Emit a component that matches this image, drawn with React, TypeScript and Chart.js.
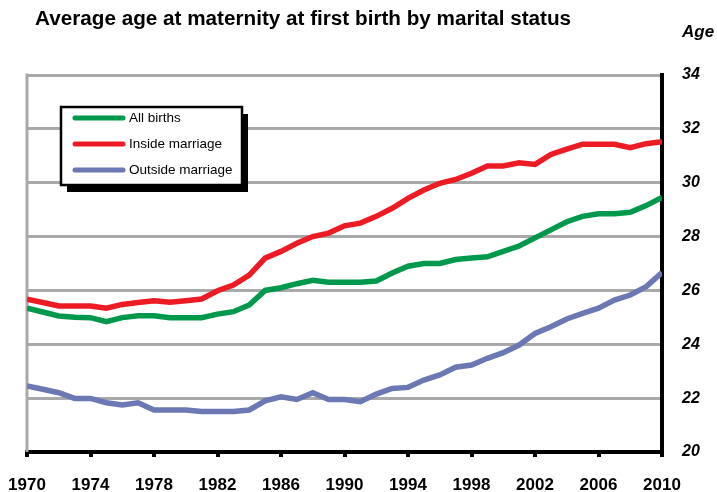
import React, { useEffect, useRef } from "react";
import { Chart, registerables } from "chart.js";

Chart.register(...registerables);

const TITLE = "Average age at maternity at first birth by marital status";
const AXIS_LABEL = "Age";

const years = [
  1970, 1971, 1972, 1973, 1974, 1975, 1976, 1977, 1978, 1979,
  1980, 1981, 1982, 1983, 1984, 1985, 1986, 1987, 1988, 1989,
  1990, 1991, 1992, 1993, 1994, 1995, 1996, 1997, 1998, 1999,
  2000, 2001, 2002, 2003, 2004, 2005, 2006, 2007, 2008, 2009, 2010,
];

const allBirths = [
  25.34, 25.2, 25.05, 25.0, 24.99, 24.84, 24.99, 25.06, 25.06, 24.99,
  24.99, 24.99, 25.12, 25.21, 25.46, 26.0, 26.1, 26.25, 26.38, 26.3,
  26.3, 26.3, 26.35, 26.65, 26.9, 27.0, 27.0, 27.15, 27.2, 27.25,
  27.45, 27.65, 27.95, 28.25, 28.55, 28.75, 28.85, 28.85, 28.9, 29.15, 29.45,
];

const insideMarriage = [
  25.67, 25.55, 25.42, 25.42, 25.42, 25.34, 25.48, 25.55, 25.62, 25.56,
  25.62, 25.68, 25.99, 26.2, 26.57, 27.2, 27.45, 27.75, 28.0, 28.13,
  28.4, 28.5, 28.75, 29.05, 29.42, 29.73, 29.98, 30.12, 30.35, 30.62,
  30.62, 30.74, 30.68, 31.05, 31.25, 31.43, 31.43, 31.43, 31.3, 31.45, 31.52,
];

const outsideMarriage = [
  22.45, 22.33, 22.2, 21.99, 21.99, 21.83, 21.75, 21.83, 21.56, 21.56,
  21.56, 21.5, 21.5, 21.5, 21.56, 21.9, 22.05, 21.95, 22.2, 21.95,
  21.95, 21.87, 22.15, 22.36, 22.4, 22.67, 22.86, 23.15, 23.23, 23.48,
  23.69, 23.97, 24.4, 24.65, 24.94, 25.15, 25.34, 25.64, 25.83, 26.14, 26.66,
];

const seriesLabels = ["All births", "Inside marriage", "Outside marriage"];
const seriesColors = ["#00994c", "#ed1c24", "#6b78b4"];

const toPoints = (vals: number[]) => vals.map((v, i) => ({ x: years[i], y: v }));

const overlayPlugin = {
  id: "overlay",
  afterDraw(chart: any) {
    const ctx = chart.ctx as CanvasRenderingContext2D;
    ctx.save();
    // Title
    ctx.fillStyle = "#000";
    ctx.font = "bold 20.7px 'Liberation Sans', Arial, sans-serif";
    ctx.textBaseline = "middle";
    ctx.textAlign = "left";
    ctx.fillText(TITLE, 35, 19);
    // Axis label
    ctx.font = "italic bold 17px 'Liberation Sans', Arial, sans-serif";
    ctx.fillText(AXIS_LABEL, 682, 32);

    // Legend box
    const bx = 61, by = 107, bw = 181, bh = 78;
    ctx.fillStyle = "#000";
    ctx.fillRect(bx + 6, by + 7, bw, bh);
    ctx.fillStyle = "#fff";
    ctx.fillRect(bx, by, bw, bh);
    ctx.strokeStyle = "#000";
    ctx.lineWidth = 2.5;
    ctx.strokeRect(bx, by, bw, bh);
    const rows = [118, 144, 170];
    ctx.font = "13.5px 'Liberation Sans', Arial, sans-serif";
    chart.data.datasets.forEach((ds: any, i: number) => {
      ctx.strokeStyle = ds.borderColor;
      ctx.lineWidth = 5;
      ctx.lineCap = "round";
      ctx.beginPath();
      ctx.moveTo(75, rows[i]);
      ctx.lineTo(123, rows[i]);
      ctx.stroke();
      ctx.fillStyle = "#000";
      ctx.fillText(ds.label, 129, rows[i]);
    });
    ctx.restore();
  },
  beforeDatasetsDraw(chart: any) {
    const ctx = chart.ctx as CanvasRenderingContext2D;
    const ca = chart.chartArea;
    ctx.save();
    ctx.strokeStyle = "#a9a9a9";
    ctx.lineWidth = 3;
    ctx.beginPath();
    ctx.moveTo(ca.left, ca.top - 1.5);
    ctx.lineTo(ca.left, ca.bottom);
    ctx.stroke();
    ctx.restore();
  },
};

export default function App() {
  const ref = useRef<HTMLCanvasElement>(null);
  useEffect(() => {
    if (!ref.current) return;
    const chart = new Chart(ref.current, {
      type: "line",
      data: {
        datasets: [allBirths, insideMarriage, outsideMarriage].map((vals, i) => ({
          label: seriesLabels[i],
          data: toPoints(vals),
          borderColor: seriesColors[i],
          backgroundColor: seriesColors[i],
          borderWidth: 5.5,
          pointRadius: 0,
          tension: 0,
        })),
      },
      options: {
        animation: false,
        responsive: false,
        maintainAspectRatio: false,
        layout: { padding: { left: 27, top: 75, right: 0, bottom: 0 } },
        plugins: {
          legend: { display: false },
          tooltip: { enabled: false },
          title: { display: false },
        },
        scales: {
          x: {
            type: "linear",
            min: 1970,
            max: 2010,
            afterFit: (s: any) => {
              s.height = 40;
              s.paddingLeft = 0;
              s.paddingRight = 0;
            },
            border: { color: "#000", width: 4 },
            grid: { drawOnChartArea: false, drawTicks: true, tickLength: 5, color: "#000", lineWidth: 4 },
            ticks: {
              stepSize: 4,
              color: "#000",
              padding: 18,
              font: { family: "'Liberation Sans', Arial, sans-serif", size: 17, weight: "bold" },
              callback: (v: any) => String(v),
              maxRotation: 0,
            },
          },
          y: {
            position: "right",
            min: 20,
            max: 34,
            afterFit: (s: any) => {
              s.width = 55;
              s.paddingTop = 0;
              s.paddingBottom = 0;
            },
            border: { color: "#000", width: 4 },
            grid: { color: "#a9a9a9", lineWidth: 3, drawTicks: false },
            ticks: {
              stepSize: 2,
              color: "#000",
              padding: 20,
              font: { family: "'Liberation Sans', Arial, sans-serif", size: 16, weight: "bold", style: "italic" },
            },
          },
        },
      },
      plugins: [overlayPlugin],
    });
    return () => chart.destroy();
  }, []);
  return (
    <div style={{ position: "fixed", left: 0, top: 0, width: 717, height: 492, background: "#fff" }}>
      <canvas ref={ref} width={717} height={492} style={{ width: 717, height: 492 }} />
    </div>
  );
}
